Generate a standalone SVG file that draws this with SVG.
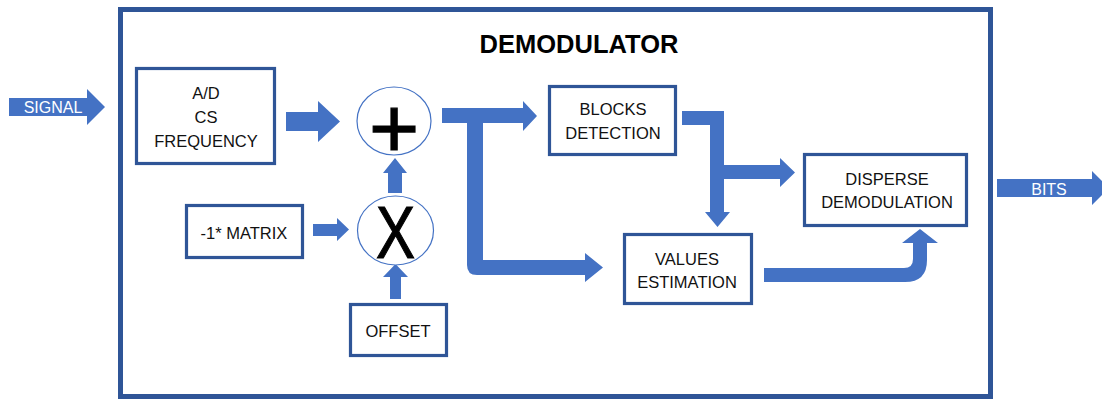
<svg xmlns="http://www.w3.org/2000/svg" width="1102" height="399" viewBox="0 0 1102 399">
<style>
.box{fill:#fff;stroke:#2F5597;stroke-width:3.2}
.arr{fill:#4472C4;stroke:none}
.t{font-family:"Liberation Sans",Arial,sans-serif;font-size:16.5px;fill:#111;text-anchor:middle}
.w{font-family:"Liberation Sans",Arial,sans-serif;font-size:16px;fill:#fff;text-anchor:middle}
.op{fill:#fff;stroke:#4472C4;stroke-width:1.2}
</style>
<rect width="1102" height="399" fill="#fff"/>
<g id="frame">
<rect x="120.5" y="9.5" width="870" height="387" fill="none" stroke="#2F5597" stroke-width="5"/>
<text x="579" y="53" style="font-family:'Liberation Sans',Arial,sans-serif;font-size:25.5px;font-weight:bold;fill:#000;text-anchor:middle">DEMODULATOR</text>
</g>
<g id="connectors">
<polygon class="arr" points="9,98 87,98 87,89 105,107 87,125 87,116 9,116"/>
<polygon class="arr" points="286,112 318,112 318,101 340,121.5 318,142 318,131 286,131"/>
<polygon class="arr" points="313,224 337,224 337,218 349,229.5 337,241 337,236 313,236"/>
<polygon class="arr" points="390,299 390,277 383,277 395.5,264 408,277 401,277 401,299"/>
<polygon class="arr" points="388,193 388,173 383,173 395,158 407,173 402,173 402,193"/>
<path class="arr" d="M442,108 H523 V101 L537,116 L523,131 V123 H483 V260 H585 V253 L603,267.5 L585,282 V275 H477 Q467,275 467,265 V123 H442 Z"/>
<path class="arr" d="M682,111 H724 V165 H780 V158 L795,172.5 L780,187 V179 H724 V212 H730 L717.5,227 L705,212 H710 V125 H682 Z"/>
<path class="arr" d="M764,268 H904 Q913,268 913,259 V243 H902 L920,229 L938,243 H927 V260 Q927,282 905,282 H764 Z"/>
<polygon class="arr" points="997,179 1092,179 1092,171 1109,188 1092,205 1092,197 997,197"/>
<text class="w" x="53" y="113">SIGNAL</text>
<text class="w" x="1049" y="195">BITS</text>
</g>
<g id="ad">
<rect class="box" x="136.5" y="68.5" width="138" height="95"/>
<text class="t" x="206" y="99">A/D</text>
<text class="t" x="206" y="123">CS</text>
<text class="t" x="206" y="147">FREQUENCY</text>
</g>
<g id="sum">
<ellipse class="op" cx="394" cy="121" rx="37" ry="34"/>
<text x="394" y="158" style="font-family:'Liberation Sans',Arial,sans-serif;font-size:86px;fill:#000;stroke:#000;stroke-width:1.2;text-anchor:middle">+</text>
</g>
<g id="mult">
<ellipse class="op" cx="395.5" cy="230.5" rx="38" ry="34.5"/>
<text x="376" y="258" textLength="39" lengthAdjust="spacingAndGlyphs" style="font-family:'Liberation Sans',Arial,sans-serif;font-size:74px;fill:#000;stroke:#000;stroke-width:1.2">X</text>
</g>
<g id="matrix">
<rect class="box" x="186.5" y="205.5" width="116" height="52"/>
<text class="t" x="244" y="239">-1* MATRIX</text>
</g>
<g id="offset">
<rect class="box" x="350.5" y="304.5" width="96" height="51"/>
<text class="t" x="398" y="337">OFFSET</text>
</g>
<g id="blocks">
<rect class="box" x="549.5" y="86.5" width="126" height="68"/>
<text class="t" x="613" y="115">BLOCKS</text>
<text class="t" x="613" y="139">DETECTION</text>
</g>
<g id="values">
<rect class="box" x="624.5" y="234.5" width="127" height="69"/>
<text class="t" x="687" y="265">VALUES</text>
<text class="t" x="687" y="288">ESTIMATION</text>
</g>
<g id="disperse">
<rect class="box" x="804.5" y="154.5" width="162" height="71"/>
<text class="t" x="887" y="185">DISPERSE</text>
<text class="t" x="887" y="208">DEMODULATION</text>
</g>
</svg>
